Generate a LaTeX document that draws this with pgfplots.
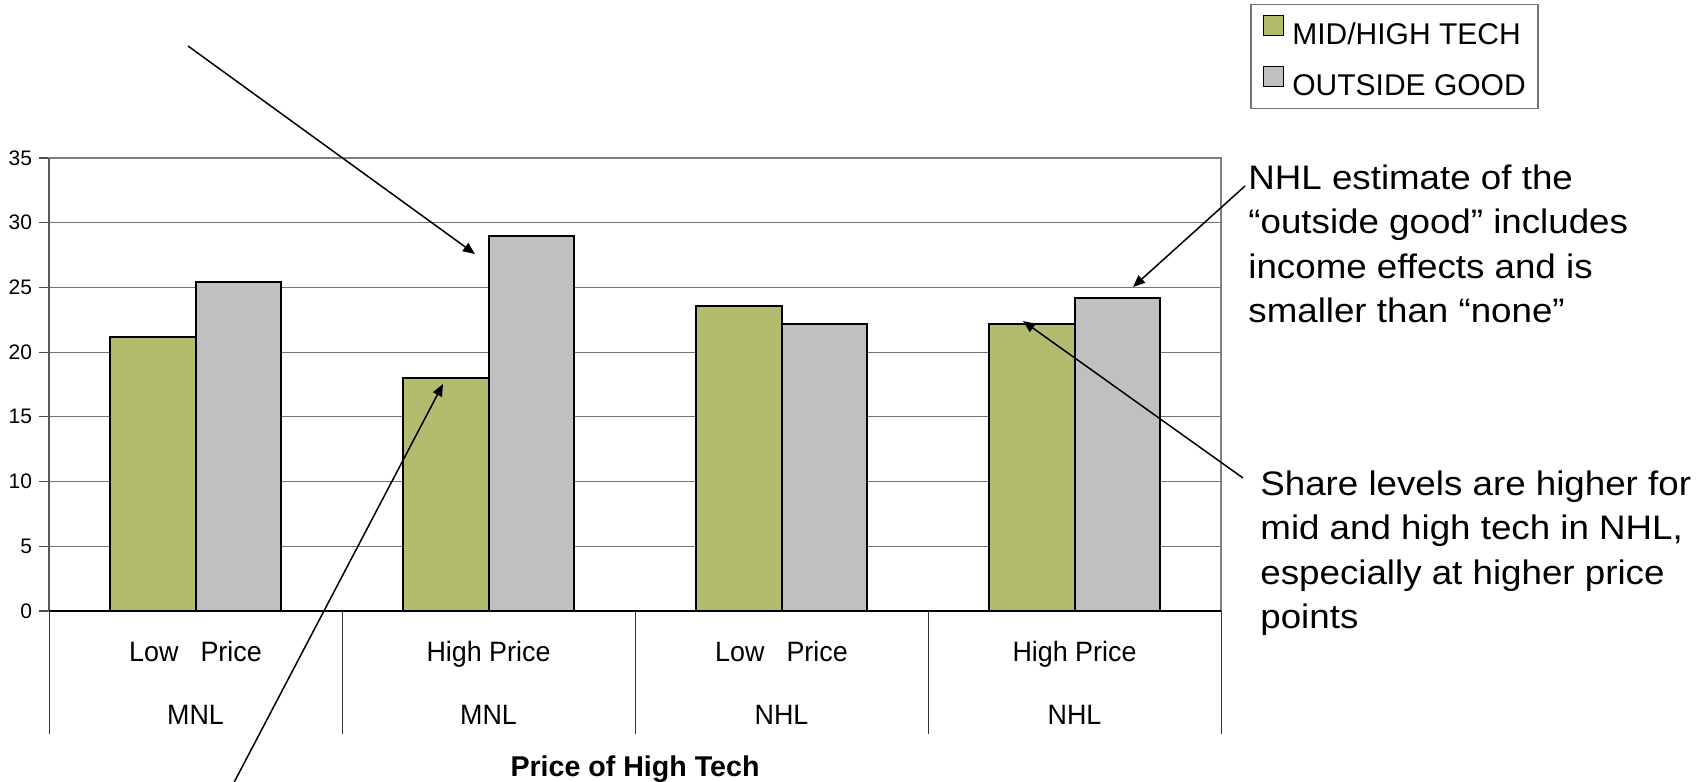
\documentclass[border=0pt]{standalone}
\usepackage{fontspec}
\setmainfont{Liberation Sans}
\newfontfamily\annfont[FakeStretch=1.08]{Liberation Sans}
\newfontfamily\catfont[FakeStretch=0.96]{Liberation Sans}
\usepackage{pgfplots}
\pgfplotsset{compat=1.18}
\usetikzlibrary{arrows.meta}
\definecolor{barGreen}{RGB}{179,187,110}
\definecolor{barGray}{RGB}{192,192,192}
\begin{document}
\begin{tikzpicture}
\path[use as bounding box] (0,0) rectangle (852pt,-391pt);
\begin{axis}[
  at={(24.5pt,-305.5pt)}, anchor=south west,
  scale only axis, width=586pt, height=226.5pt,
  clip=false,
  xmin=-0.5, xmax=3.5, ymin=0, ymax=35,
  xtick={0,1,2,3},
  xticklabels={{Low\hspace{11pt}Price\\[15pt]MNL},{High Price\\[15pt]MNL},{Low\hspace{11pt}Price\\[15pt]NHL},{High Price\\[15pt]NHL}},
  xticklabel style={font=\catfont\fontsize{14}{16.5}\selectfont, align=center, anchor=north, inner sep=0pt, yshift=-9.8pt},
  xtick style={draw=none},
  xtick pos=bottom,
  extra x ticks={-0.5,0.5,1.5,2.5,3.5},
  extra x tick labels={\empty,\empty,\empty,\empty,\empty},
  extra x tick style={grid=none, tick align=outside, major tick length=61.5pt, xtick style={draw=black!80, line width=0.5pt}},
  ytick={0,5,...,35},
  ytick pos=left,
  ytick style={draw=black!70, line width=0.6pt},
  tick align=outside, major tick length=5pt,
  yticklabel style={font=\fontsize{10.5}{12}\selectfont},
  /pgf/number format/assume math mode=true,
  ymajorgrids, grid style={black!55, line width=0.5pt},
  axis line style={draw=black!50, line width=0.8pt},
  xlabel={Price of High Tech},
  xlabel style={at={(axis description cs:0.5,0)}, anchor=north, inner sep=0pt, yshift=-72pt, font=\bfseries\fontsize{14.3}{17}\selectfont},
  legend style={at={(axis description cs:1.0247,1.3404)}, anchor=north west, draw=black!55, line width=0.8pt, fill=white,
    font=\fontsize{15}{18}\selectfont, inner xsep=6pt, inner ysep=5pt, row sep=8.9pt, nodes={inner sep=0pt},
    /tikz/every odd column/.append style={column sep=4pt}},
  legend cell align=left,
]
\addplot[ybar, bar width=0.292, bar shift=-0.146, fill=barGreen, draw=black, line width=1pt,
  legend image code/.code={\draw[fill=barGreen, draw=black, line width=0.8pt] (0pt,0pt) rectangle (10pt,10pt);}]
  coordinates {(0,21.2) (1,18.0) (2,23.6) (3,22.2)};
\addlegendentry{MID/HIGH TECH}
\addplot[ybar, bar width=0.292, bar shift=0.146, fill=barGray, draw=black, line width=1pt,
  legend image code/.code={\draw[fill=barGray, draw=black, line width=0.8pt] (0pt,0pt) rectangle (10pt,10pt);}]
  coordinates {(0,25.4) (1,29.0) (2,22.2) (3,24.2)};
\addlegendentry{OUTSIDE GOOD}
\draw[black!65, line width=1pt] (rel axis cs:0,0) -- (rel axis cs:0,1);
\draw[black, line width=0.8pt] (rel axis cs:0,0) -- (rel axis cs:1,0);
\end{axis}
\begin{scope}[x=0.5pt, y=-0.5pt]
\node[anchor=north west, inner sep=0pt, align=left, font=\annfont\fontsize{17}{22.25}\selectfont] at (1248,164)
  {NHL estimate of the\\“outside good” includes\\income effects and is\\smaller than “none”};
\node[anchor=north west, inner sep=0pt, align=left, font=\annfont\fontsize{17}{22.25}\selectfont] at (1260,470)
  {Share levels are higher for\\mid and high tech in NHL,\\especially at higher price\\points};
\begin{scope}[line width=0.75pt, -{Triangle[length=6pt,width=5pt]}]
\draw (188,46) -- (475,254);
\draw (229,792) -- (443,384);
\draw (1245,186) -- (1133,287);
\draw (1243,478) -- (1023,321);
\end{scope}
\end{scope}
\end{tikzpicture}
\end{document}
